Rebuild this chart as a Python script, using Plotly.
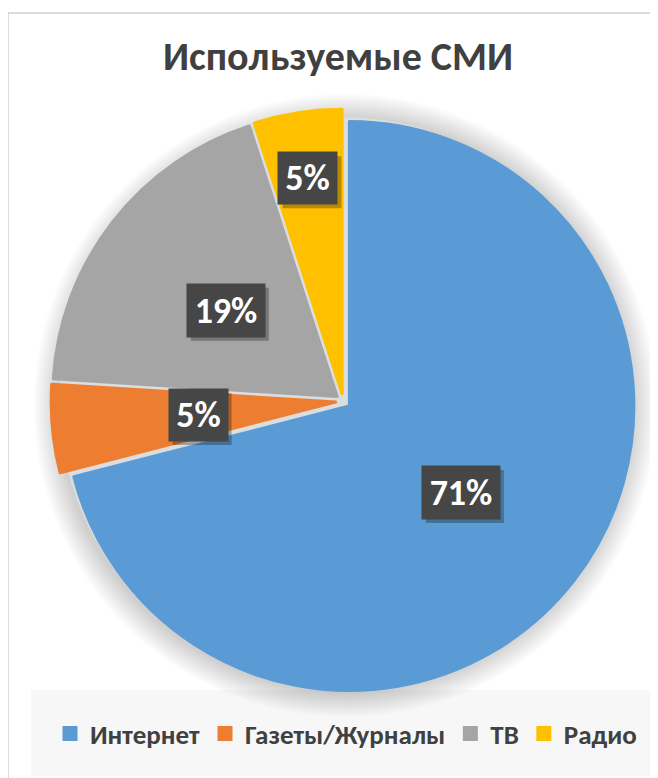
import math
import plotly.graph_objects as go

# ---- data ----
categories = ["Интернет", "Газеты/Журналы", "ТВ", "Радио"]
values = [71, 5, 19, 5]
label_texts = ["71%", "5%", "19%", "5%"]
colors = ["#5B9BD5", "#ED7D31", "#A5A5A5", "#FFC000"]
label_radius = [0.52, 0.51, 0.52, 0.79]   # radial position of data labels (fraction of radius)

W, H = 658, 778
OX, OY = 8, 8      # page body margin offset of the plot div
FONT = "Carlito, Calibri, 'Open Sans', sans-serif"
TXT = "#404040"


def fx(xw):
    return (xw - OX) / W


def fy(yw):
    return (H - (yw - OY)) / H


# pie geometry (window pixels)
cx, cy = 343.3, 401.3
R = 286.0
LW = 3.0
PULL = 0.027
Rin = R - LW / 2
half = Rin * (1 + PULL)
dom_x = [fx(cx - half), fx(cx + half)]
dom_y = [fy(cy + half), fy(cy - half)]

fig = go.Figure()
fig.add_trace(go.Pie(
    labels=categories, values=values, sort=False, direction="clockwise", rotation=0,
    marker=dict(colors=colors, line=dict(width=LW, color=colors)),
    pull=[PULL] * len(values), textinfo="none", hoverinfo="label+percent",
    domain=dict(x=dom_x, y=dom_y), showlegend=True,
))

shapes = []
# chart border (left / top)
shapes.append(dict(type="line", xref="paper", yref="paper", x0=fx(8), x1=1.05, y0=fy(13), y1=fy(13),
                   line=dict(color="#D0D0D0", width=1.5)))
shapes.append(dict(type="line", xref="paper", yref="paper", x0=fx(8), x1=fx(8), y0=-0.05, y1=fy(13),
                   line=dict(color="#D0D0D0", width=1.5)))
# legend background
shapes.append(dict(type="rect", xref="paper", yref="paper", x0=fx(31), x1=1.05, y0=fy(776), y1=fy(690),
                   fillcolor="#F7F7F7", line=dict(width=0), layer="below"))
# soft glow around pie
for k in range(16, 0, -1):
    rr = R + k * 1.6
    shapes.append(dict(type="circle", xref="paper", yref="paper",
                       x0=fx(cx + 2 - rr), x1=fx(cx + 2 + rr),
                       y0=fy(cy + 4 + rr), y1=fy(cy + 4 - rr),
                       fillcolor="rgba(0,0,0,0.013)", line=dict(width=0), layer="below"))
# light gray showing through the gaps between exploded slices
shapes.append(dict(type="circle", xref="paper", yref="paper",
                   x0=fx(cx - R + 2), x1=fx(cx + R - 2), y0=fy(cy + R - 2), y1=fy(cy - R + 2),
                   fillcolor="#DCDDDE", line=dict(width=0), layer="below"))

# data labels placed on slice bisectors
total = sum(values)
annotations = []
cum = 0.0
for v, t, f in zip(values, label_texts, label_radius):
    mid = (cum + v / 2) / total * 2 * math.pi
    cum += v
    px = cx + f * R * math.sin(mid)
    py = cy - f * R * math.cos(mid)
    bw = 78 if len(t) == 3 else 59
    bh = 53 if len(t) == 3 else 52
    # drop shadow of the label box
    shapes.append(dict(type="rect", xref="paper", yref="paper", xsizemode="pixel", ysizemode="pixel",
                       xanchor=fx(px), yanchor=fy(py),
                       x0=-bw / 2 + 4, x1=bw / 2 + 4, y0=-bh / 2 - 4, y1=bh / 2 - 4,
                       fillcolor="rgba(0,0,0,0.28)", line=dict(width=0), layer="above"))
    annotations.append(dict(x=fx(px), y=fy(py), xref="paper", yref="paper", showarrow=False,
                            xanchor="center", yanchor="middle", width=bw, height=bh, borderpad=0,
                            text=t, bgcolor="#464646",
                            font=dict(family=FONT, size=36, color="white", weight="bold")))

fig.update_layout(
    width=W, height=H, margin=dict(l=0, r=0, t=0, b=0),
    paper_bgcolor="white", plot_bgcolor="white",
    title=dict(text="Используемые СМИ", x=fx(338), xanchor="center", xref="paper",
               y=fy(56), yanchor="middle", yref="container",
               font=dict(family=FONT, size=40, color=TXT, weight="bold")),
    legend=dict(orientation="h", x=fx(346), xanchor="center", y=fy(734), yanchor="middle",
                bgcolor="rgba(0,0,0,0)", font=dict(family=FONT, size=27, color=TXT, weight="bold"),
                itemclick=False, itemdoubleclick=False, traceorder="normal"),
    shapes=shapes, annotations=annotations,
)
fig.write_html("out.html")
